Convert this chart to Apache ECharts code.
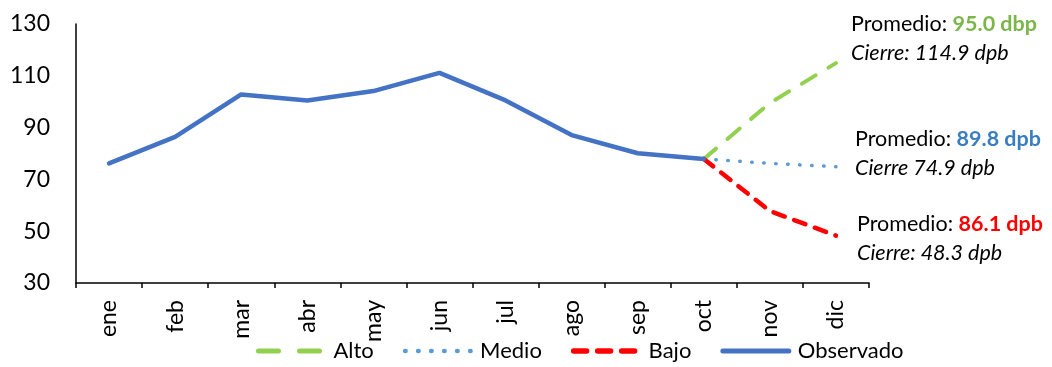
<!DOCTYPE html>
<html>
<head>
<meta charset="utf-8">
<script src="https://cdn.jsdelivr.net/npm/echarts@6/dist/echarts.min.js"></script>
<style>
  html, body { margin: 0; padding: 0; background: #fff; }
  #chart { width: 1052px; height: 367px; }
</style>
</head>
<body>
<div id="chart"></div>
<script>
// Months on the category axis
const months = ['ene', 'feb', 'mar', 'abr', 'may', 'jun', 'jul', 'ago', 'sep', 'oct', 'nov', 'dic'];

// Observed index (ene–oct)
const observado = [76.2, 86.4, 102.8, 100.5, 104.1, 111.1, 100.5, 87.1, 80.1, 77.9, null, null];

// Scenario projections starting from the last observed month
const alto  = [null, null, null, null, null, null, null, null, null, 77.9, 99.5, 114.9];
const medio = [null, null, null, null, null, null, null, null, null, 77.9, 76.2, 74.9];
const bajo  = [null, null, null, null, null, null, null, null, null, 77.9, 57.8, 48.3];

// Y axis ticks
const yMin = 30, yMax = 130, yStep = 20;

// Scenario summaries shown to the right of the plot
const summaries = [
  { promedio: '95.0 dbp', cierre: 'Cierre: 114.9 dpb', color: '#7AB648' },
  { promedio: '89.8 dpb', cierre: 'Cierre 74.9 dpb',   color: '#3A7DC0' },
  { promedio: '86.1 dpb', cierre: 'Cierre: 48.3 dpb',  color: '#FF0000' }
];

const FONT = 'Lato, "Open Sans", sans-serif';

const chart = echarts.init(document.getElementById('chart'));

const summaryPos = [[851, 13], [855, 128], [857, 213]];
const graphics = summaries.map((s, i) => ({
  type: 'text',
  left: summaryPos[i][0],
  top: summaryPos[i][1],
  style: {
    text: '{p|Promedio: }{v|' + s.promedio + '}\n{c|' + s.cierre + '}',
    rich: {
      p: { fontSize: 21.5, fontFamily: FONT, fill: '#000', lineHeight: 29 },
      v: { fontSize: 21.5, fontFamily: FONT, fontWeight: 'bold', fill: s.color, lineHeight: 29 },
      c: { fontSize: 21.5, fontFamily: FONT, fontStyle: 'italic', fill: '#000', lineHeight: 29 }
    }
  }
}));

// Legend entries: line sample only, no marker
const legendStyles = {
  Alto:      { color: '#92D050', width: 5, type: [20, 21], cap: 'round' },
  Medio:     { color: '#5B9BD5', width: 4.5, type: [0.5, 12.5], cap: 'round' },
  Bajo:      { color: '#FF0000', width: 5.5, type: [13, 11], cap: 'round' },
  Observado: { color: '#4472C4', width: 5, type: 'solid', cap: 'round' }
};

chart.setOption({
  animation: false,
  textStyle: { fontFamily: FONT },
  grid: { left: 76, right: 183, top: 24, bottom: 84, containLabel: false },
  legend: {
    bottom: 0,
    left: 251,
    itemWidth: 66,
    itemHeight: 10,
    itemGap: 29,
    itemStyle: { opacity: 0, borderWidth: 0 },
    textStyle: { fontSize: 22, color: '#000', fontFamily: FONT, padding: [0, 0, 0, 4] },
    data: Object.keys(legendStyles).map(name => ({ name, lineStyle: legendStyles[name] }))
  },
  xAxis: {
    type: 'category',
    data: months,
    boundaryGap: true,
    axisLine: { lineStyle: { color: '#000', width: 1.5 } },
    axisTick: { show: true, length: 5, interval: 0, lineStyle: { color: '#000', width: 1.5 } },
    axisLabel: { rotate: 90, interval: 0, fontSize: 23, color: '#000', margin: 17, fontFamily: FONT }
  },
  yAxis: {
    type: 'value',
    min: yMin,
    max: yMax,
    interval: yStep,
    splitLine: { show: false },
    axisLine: { show: true, lineStyle: { color: '#000', width: 1.5 } },
    axisTick: { show: false },
    axisLabel: { fontSize: 23, color: '#000', margin: 26, fontFamily: FONT }
  },
  series: [
    {
      name: 'Alto', type: 'line', data: alto, symbol: 'none', z: 3,
      lineStyle: { color: '#92D050', width: 4, type: [16, 15], cap: 'round' },
      itemStyle: { color: '#92D050' }
    },
    {
      name: 'Medio', type: 'line', data: medio, symbol: 'none', z: 3,
      lineStyle: { color: '#5B9BD5', width: 3.5, type: [0.5, 11.5], cap: 'round' },
      itemStyle: { color: '#5B9BD5' }
    },
    {
      name: 'Bajo', type: 'line', data: bajo, symbol: 'none', z: 3,
      lineStyle: { color: '#FF0000', width: 4.5, type: [12, 10], cap: 'round' },
      itemStyle: { color: '#FF0000' }
    },
    {
      name: 'Observado', type: 'line', data: observado, symbol: 'none', z: 4,
      lineStyle: { color: '#4472C4', width: 4.5, cap: 'round', join: 'round' },
      itemStyle: { color: '#4472C4' }
    }
  ],
  graphic: graphics
});
</script>
</body>
</html>
